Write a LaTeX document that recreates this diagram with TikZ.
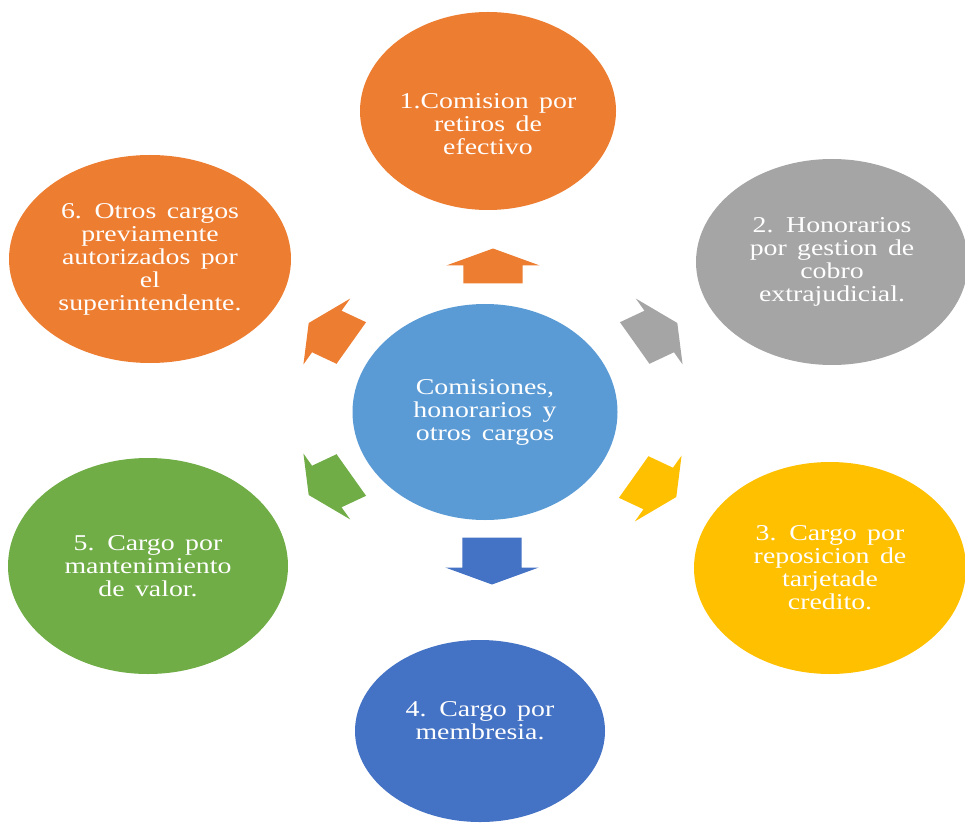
\documentclass[tikz,border=0pt]{standalone}
\usepackage{fontspec}
\newfontfamily\bubblefont[FakeStretch=1.23,WordSpace=1.5]{Liberation Serif}
\usetikzlibrary{shapes.geometric}

\definecolor{hubblue}{HTML}{5B9BD5}
\definecolor{cargoorange}{HTML}{ED7D31}
\definecolor{cargogray}{HTML}{A5A5A5}
\definecolor{cargoyellow}{HTML}{FFC000}
\definecolor{cargoblue}{HTML}{4472C4}
\definecolor{cargogreen}{HTML}{70AD47}

\newlength\px
\setlength\px{0.03cm}

\begin{document}
\begin{tikzpicture}[x=1\px,y=-1\px,
  bubbletext/.style={inner sep=0pt,align=center,text=white,
    font=\bubblefont\fontsize{19.3}{19.6}\selectfont},
  bubble/.style={ellipse,bubbletext},
  pics/blockarrow/.style={code={
    \path[pic actions] (-#1/2,-24) -- (#1/2-17,-24) -- (#1/2-17,-38) -- (#1/2,0)
      -- (#1/2-17,38) -- (#1/2-17,24) -- (-#1/2,24) -- cycle;}}]

  \useasboundingbox (0,0) rectangle (965,825);

  \node[bubble,fill=hubblue,minimum width=265\px,minimum height=216\px] (hub) at (485,412)
    {Comisiones,\\honorarios y\\otros cargos};
  \node[bubble,fill=cargoorange,minimum width=256\px,minimum height=198\px] (retiros) at (488,111) {};
  \node[bubbletext] (retirostext) at (488,124) {1.Comision por\\retiros de\\efectivo};
  \node[bubble,fill=cargogray,minimum width=272\px,minimum height=206\px] (cobro) at (832,262)
    {2. Honorarios\\por gestion de\\cobro\\extrajudicial.};
  \node[bubble,fill=cargoyellow,minimum width=272\px,minimum height=212\px] (tarjeta) at (830,568)
    {3. Cargo por\\reposicion de\\tarjetade\\credito.};
  \node[bubble,fill=cargoblue,minimum width=250\px,minimum height=182\px] (membresia) at (480,731) {};
  \node[bubbletext] (membresiatext) at (480,721) {4. Cargo por\\membresia.};
  \node[bubble,fill=cargogreen,minimum width=280\px,minimum height=216\px] (valor) at (148,566)
    {5. Cargo por\\mantenimiento\\de valor.};
  \node[bubble,fill=cargoorange,minimum width=282\px,minimum height=208\px] (otros) at (150,259)
    {6. Otros cargos\\previamente\\autorizados por\\el\\superintendente.};

  % block arrows round the hub
  \pic[fill=cargoorange,xscale=1.23,rotate=90] at (493,266) {blockarrow=35};
  \pic[fill=cargogray,xscale=1.23,rotate=30] at (656,333) {blockarrow=40};
  \pic[fill=cargoyellow,xscale=1.23,rotate=-30] at (655,487) {blockarrow=40};
  \pic[fill=cargoblue,xscale=1.23,rotate=-90] at (492,561) {blockarrow=47};
  \pic[fill=cargogreen,xscale=1.23,rotate=210] at (330,485) {blockarrow=40};
  \pic[fill=cargoorange,xscale=1.23,rotate=150] at (330,333) {blockarrow=40};

\end{tikzpicture}
\end{document}
